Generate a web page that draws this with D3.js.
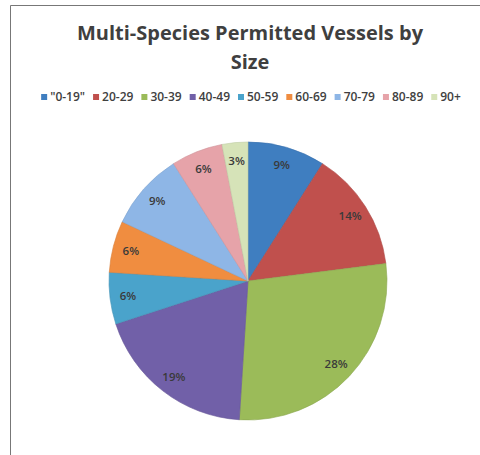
<!DOCTYPE html>
<html>
<head>
<meta charset="utf-8">
<script src="https://cdn.jsdelivr.net/npm/d3@7"></script>
<style>
  body { margin: 0; background: #fff; }
  text { font-family: "Open Sans", "DejaVu Sans", sans-serif; }
</style>
</head>
<body>
<div id="chart"></div>
<script>
// data
var categories = ['"0-19"', "20-29", "30-39", "40-49", "50-59", "60-69", "70-79", "80-89", "90+"];
var percents = [9, 14, 28, 19, 6, 6, 9, 6, 3];
var colors = ["#3f7ec0", "#c0504d", "#9bbb59", "#7160a8", "#4aa3cb", "#f08d40", "#8eb6e6", "#e6a3a9", "#d6e3b8"];
var titleLines = ["Multi-Species Permitted Vessels by", "Size"];

var width = 480, height = 455;
var svg = d3.select("#chart").append("svg")
    .attr("width", width)
    .attr("height", height);

// chart frame (left and top edges show in the scan)
svg.append("path")
    .attr("d", "M10.5,455 L10.5,5.5 L480,5.5")
    .attr("fill", "none")
    .attr("stroke", "#777")
    .attr("stroke-width", 1);

// title
svg.append("g").selectAll("text")
    .data(titleLines)
    .enter().append("text")
    .attr("x", 250)
    .attr("y", function(d, i) { return 40 + i * 29; })
    .attr("text-anchor", "middle")
    .attr("font-size", 20)
    .attr("font-weight", "bold")
    .attr("fill", "#3f3f3f")
    .attr("textLength", function(d, i) { return i == 0 ? 346 : null; })
    .attr("lengthAdjust", "spacingAndGlyphs")
    .text(function(d) { return d; });

// legend
var legend = svg.append("g").attr("class", "legend");
var items = legend.selectAll("g")
    .data(categories)
    .enter().append("g");
items.append("rect")
    .attr("width", 6)
    .attr("height", 6)
    .attr("y", -7)
    .attr("fill", function(d, i) { return colors[i]; });
items.append("text")
    .attr("x", 9)
    .attr("font-size", 12)
    .attr("font-weight", 600)
    .attr("fill", "#404040")
    .text(function(d) { return d; });

// lay the legend out from measured text widths
var gap = 8, xPos = 0, offsets = [];
items.each(function() {
    var w = d3.select(this).select("text").node().getComputedTextLength();
    offsets.push(xPos);
    xPos += 9 + w + gap;
});
var totalW = xPos - gap;
var start = 251 - totalW / 2;
items.attr("transform", function(d, i) { return "translate(" + (start + offsets[i]) + ",101)"; });

// pie
var cx = 248, cy = 281, radius = 139;
var pie = d3.pie().sort(null).value(function(d) { return d; });
var arc = d3.arc().innerRadius(0).outerRadius(radius);
var labelArc = d3.arc().innerRadius(radius * 0.87).outerRadius(radius * 0.87);

var pieGroup = svg.append("g").attr("transform", "translate(" + cx + "," + cy + ")");
var arcs = pie(percents);

pieGroup.selectAll("path")
    .data(arcs)
    .enter().append("path")
    .attr("d", arc)
    .attr("fill", function(d, i) { return colors[i]; })
    .attr("stroke", function(d, i) { return d3.color(colors[i]).darker(0.3); })
    .attr("stroke-width", 0.6);

pieGroup.selectAll("text")
    .data(arcs)
    .enter().append("text")
    .attr("transform", function(d) { return "translate(" + labelArc.centroid(d) + ")"; })
    .attr("text-anchor", "middle")
    .attr("dy", "0.35em")
    .attr("font-size", 11.5)
    .attr("font-weight", 600)
    .attr("fill", "#3a3a3a")
    .text(function(d) { return d.data + "%"; });
</script>
</body>
</html>
